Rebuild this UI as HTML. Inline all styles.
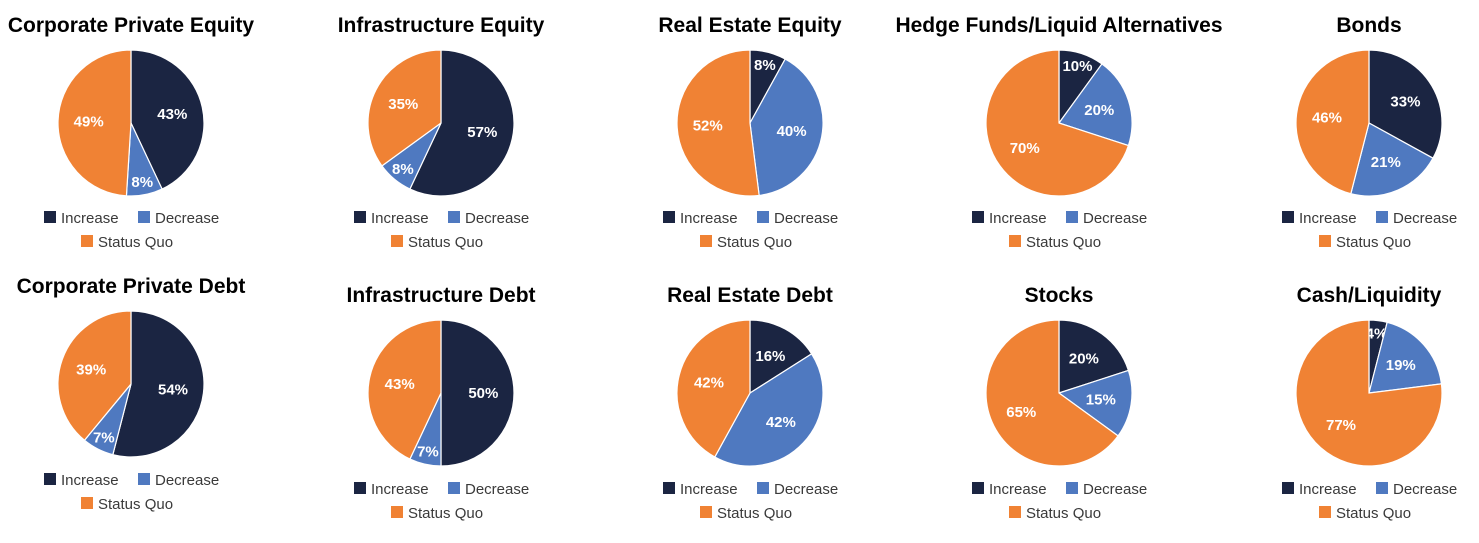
<!DOCTYPE html>
<html><head><meta charset="utf-8"><style>
body{margin:0;background:#fff;width:1479px;height:543px;overflow:hidden}
svg{display:block}
text{font-family:"Liberation Sans",sans-serif}
</style></head><body>
<svg id="c" width="1479" height="543" viewBox="0 0 1479 543"></svg>
<script>
const titles=["Corporate Private Equity","Infrastructure Equity","Real Estate Equity","Hedge Funds/Liquid Alternatives","Bonds","Corporate Private Debt","Infrastructure Debt","Real Estate Debt","Stocks","Cash/Liquidity"];
const increase=[43,57,8,10,33,54,50,16,20,4];
const decrease=[8,8,40,20,21,7,7,42,15,19];
const statusQuo=[49,35,52,70,46,39,43,42,65,77];
const seriesNames=["Increase","Decrease","Status Quo"];
const colors=["#1b2542","#4f79c0","#f08234"];
const NS="http://www.w3.org/2000/svg";
const svg=document.getElementById("c");
const cxs=[131,441,750,1059,1369];
function mk(t,a,p){const e=document.createElementNS(NS,t);for(const k in a)e.setAttribute(k,a[k]);(p||svg).appendChild(e);return e;}
const R=73;
titles.forEach((title,i)=>{
  const row=Math.floor(i/5),col=i%5;
  const cx=cxs[col];
  const off=(row===1&&col!==0)?9:0;
  const cy=row===0?123:384+off;
  const ty=row===0?32:293+off;
  const ly=row===0?217:479+off;
  const g=mk("g",{});
  
  
  const t=mk("text",{x:cx,y:ty,"text-anchor":"middle","font-size":"21","font-weight":"bold",fill:"#000"},g);
  t.textContent=title;
  
  
  const vals=[increase[i],decrease[i],statusQuo[i]];
  const tot=vals.reduce((a,b)=>a+b,0);
  let a0=0;
  vals.forEach((v,k)=>{
    const a1=a0+v/tot*2*Math.PI;
    const p=(a)=>[cx+R*Math.sin(a),cy-R*Math.cos(a)];
    const [x0,y0]=p(a0),[x1,y1]=p(a1);
    const large=(a1-a0)>Math.PI?1:0;
    const s=mk("path",{d:`M${cx},${cy}L${x0},${y0}A${R},${R} 0 ${large} 1 ${x1},${y1}Z`,fill:colors[k],stroke:"#fff","stroke-width":"1.2"},g);
    
    
    const am=(a0+a1)/2;
    const rr=v<12?0.82*R:0.58*R;
    const lt=mk("text",{x:cx+rr*Math.sin(am),y:cy-rr*Math.cos(am)+5,"text-anchor":"middle","font-size":"15","font-weight":"bold",fill:"#fff"},g);
    lt.textContent=v+"%";
    
    
    a0=a1;
  });
  const items=[[cx-87,ly,0],[cx+7,ly,1],[cx-50,ly+24,2]];
  items.forEach(([x,y,k])=>{
    const lg=mk("g",{},g);
    
    
    mk("rect",{x:x,y:y-6,width:12,height:12,fill:colors[k]},lg);
    const tx=mk("text",{x:x+17,y:y+6,"font-size":"15",fill:"#3a3a3a"},lg);
    tx.textContent=seriesNames[k];
  });
});
</script>
</body></html>
